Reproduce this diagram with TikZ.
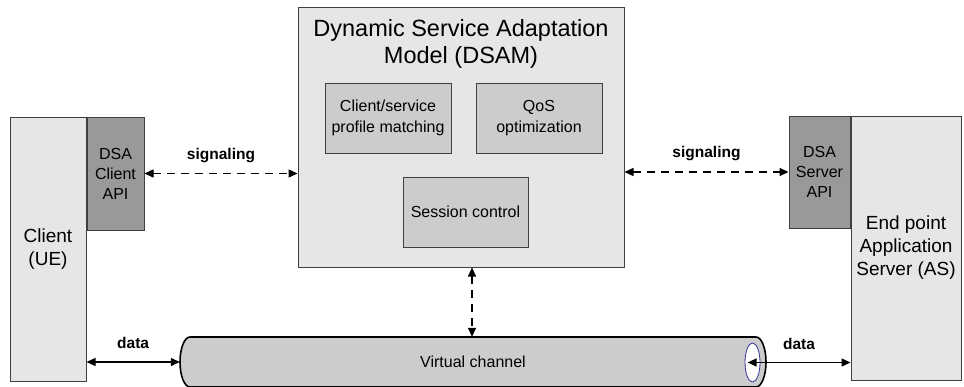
\documentclass[tikz,border=0pt]{standalone}
\usepackage{fontspec}
\setmainfont{Liberation Sans}
\usetikzlibrary{positioning,arrows.meta,shapes.geometric}

\definecolor{boxgray}{HTML}{E6E6E6}
\definecolor{apigray}{HTML}{999999}
\definecolor{partgray}{HTML}{CCCCCC}
\definecolor{edgegray}{HTML}{404040}
\definecolor{mouthblue}{HTML}{333399}

\tikzset{
  unit/.style={draw=edgegray, fill=boxgray, line width=1pt, align=center,
    inner sep=0pt, font=\fontsize{19}{23}\selectfont},
  apibox/.style={draw=edgegray, fill=apigray, line width=1pt, align=center,
    inner sep=0pt, font=\fontsize{16}{20}\selectfont},
  part/.style={draw=edgegray, fill=partgray, line width=1pt, align=center,
    inner sep=0pt, minimum width=126pt, minimum height=70pt,
    font=\fontsize{16}{21}\selectfont},
  headline/.style={align=center, font=\fontsize{23.5}{27}\selectfont},
  sig/.style={{Triangle[length=9pt,width=8pt]}-{Triangle[length=9pt,width=8pt]},
    line width=1.4pt, dash pattern=on 8pt off 6pt},
  flow/.style={{Triangle[length=9pt,width=8pt]}-{Triangle[length=9pt,width=8pt]},
    line width=1.4pt},
  tag/.style={font=\fontsize{15.5}{18}\selectfont\bfseries},
  mouth/.style={ellipse, draw=mouthblue, fill=white, line width=0.8pt,
    minimum width=15pt, minimum height=39pt, inner sep=0pt}
}

\begin{document}
\begin{tikzpicture}[x=1pt, y=-1pt]
  \useasboundingbox (0,0) rectangle (964,386);

  % Client side with its API
  \node[unit, minimum width=76pt, minimum height=264pt] (client) at (48,249) {Client\\(UE)};%
  \node[apibox, minimum width=57pt, minimum height=113pt, anchor=north west]
    (capi) at (client.north east) {DSA\\Client\\API};%

  % Server side with its API
  \node[unit, minimum width=110pt, minimum height=264pt] (server) at (906,248)
    {End point\\Application\\Server (AS)};%
  \node[apibox, minimum width=61pt, minimum height=112pt, anchor=north east]
    (sapi) at (server.north west) {DSA\\Server\\API};%

  % Adaptation model and its parts
  \node[unit, minimum width=326pt, minimum height=260pt] (dsam) at (461,137) {};%
  \node[headline, anchor=north, below=9pt of dsam.north] (dsamtitle)
    {Dynamic Service Adaptation\\Model (DSAM)};%
  \node[part] (match) at (388,118) {Client/service\\profile matching};%
  \node[part] (qos) at (539,118) {QoS\\optimization};%
  \node[part, minimum width=125pt] (session) at (465.5,212) {Session control};%

  % Drawing the virtual channel
  \path[draw=black, fill=partgray, line width=1.6pt]
    (190,337) -- (756,337) arc[start angle=-90, end angle=90, x radius=10, y radius=25]
    -- (190,387) arc[start angle=90, end angle=270, x radius=10, y radius=25] -- cycle;%
  \node[minimum width=586pt, minimum height=50pt, inner sep=0pt,
    font=\fontsize{16}{19}\selectfont] (chan) at (473,362) {Virtual channel};%
  \node[mouth] (mouth) at (752.5,362.5) {};%

  % Signaling links
  \draw[sig] (capi.east) -- (capi.east -| dsam.west)
    node[midway, above=7pt, tag] {signaling};%
  \draw[sig] (dsam.east |- sapi.west) -- (sapi.west)
    node[midway, above=7pt, tag] {signaling};%

  % Session link down to the channel
  \coordinate (drop) at (472,0);%
  \draw[sig] (drop |- dsam.south) -- (drop |- chan.north);%

  % Data links
  \draw[flow] (client.east |- chan.west) -- (chan.west)
    node[midway, above=9pt, tag] {data};%
  \draw[flow] ([xshift=3pt]mouth.west) -- (mouth.west -| server.west)
    node[midway, above=9pt, tag] {data};%
\end{tikzpicture}
\end{document}
